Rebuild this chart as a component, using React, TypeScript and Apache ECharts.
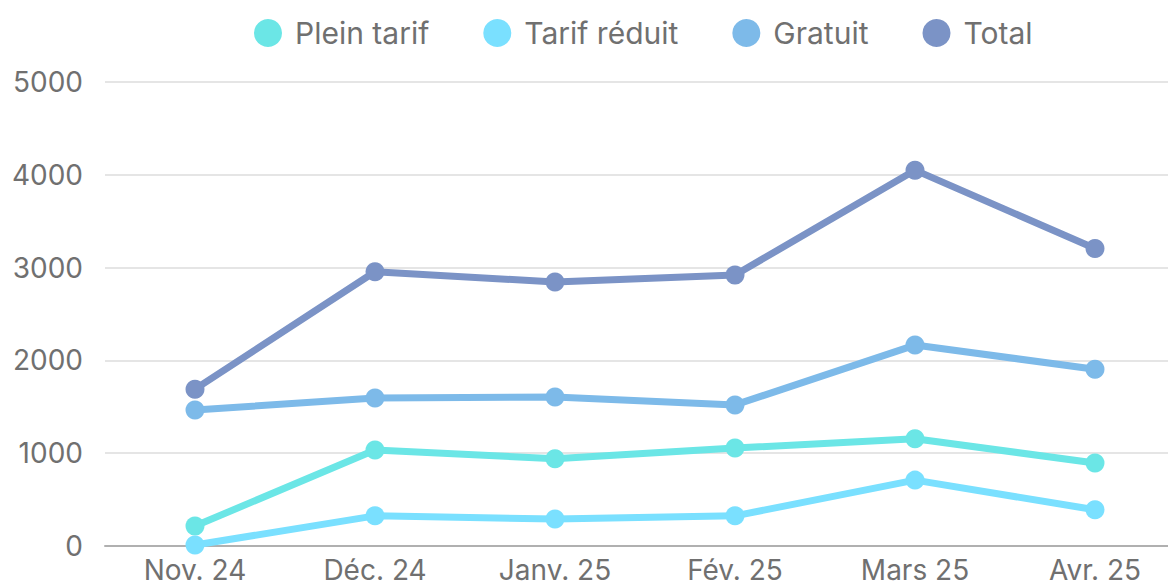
import React, { useEffect, useRef } from "react";
import * as echarts from "echarts";

const categories = ["Nov. 24", "Déc. 24", "Janv. 25", "Fév. 25", "Mars 25", "Avr. 25"];
const seriesNames = ["Plein tarif", "Tarif réduit", "Gratuit", "Total"];
const pleinTarif = [215, 1035, 940, 1055, 1155, 895];
const tarifReduit = [10, 325, 290, 325, 710, 390];
const gratuit = [1465, 1595, 1605, 1520, 2165, 1905];
const total = [1690, 2955, 2845, 2920, 4050, 3205];
const colors = ["#6be6e6", "#7ae0ff", "#7dbae9", "#7b93c6"];
const yTicks = { min: 0, max: 5000, interval: 1000 };

const FONT = "Inter, 'Noto Sans', sans-serif";

export default function App() {
  const ref = useRef<HTMLDivElement>(null);
  useEffect(() => {
    if (!ref.current) return;
    const chart = echarts.init(ref.current, undefined, { renderer: "svg" });
    const values = [pleinTarif, tarifReduit, gratuit, total];
    chart.setOption({
      animation: false,
      color: colors,
      textStyle: { fontFamily: FONT },
      legend: {
        left: 241,
        top: 5,
        icon: "circle",
        itemWidth: 28,
        itemHeight: 28,
        itemGap: 54,
        textStyle: { fontSize: 30, color: "#707070", fontFamily: FONT, padding: [0, 0, 0, 8] },
        data: seriesNames,
      },
      grid: { left: 97, right: 83, top: 74, bottom: 82 },
      xAxis: {
        type: "category",
        data: categories,
        boundaryGap: true,
        axisLine: { lineStyle: { color: "#b0b0b0", width: 2 } },
        axisTick: { show: false },
        axisLabel: { fontSize: 28, color: "#707070", margin: 10, fontFamily: FONT },
      },
      yAxis: {
        type: "value",
        min: yTicks.min,
        max: yTicks.max,
        interval: yTicks.interval,
        axisLabel: {
          fontSize: 28,
          color: "#707070",
          margin: 22,
          fontFamily: FONT,
          formatter: (v: number) => String(v),
        },
        splitLine: { lineStyle: { color: "#dddddd", width: 1.5 } },
      },
      series: seriesNames.map((name, i) => ({
        name,
        type: "line",
        data: values[i],
        symbol: "circle",
        symbolSize: 19,
        lineStyle: { width: 7, color: colors[i] },
        itemStyle: { color: colors[i] },
      })),
    });
    return () => chart.dispose();
  }, []);
  return (
    <div style={{ width: 1168, height: 576, overflow: "hidden" }}>
      <div ref={ref} style={{ width: 1260, height: 620 }} />
    </div>
  );
}
